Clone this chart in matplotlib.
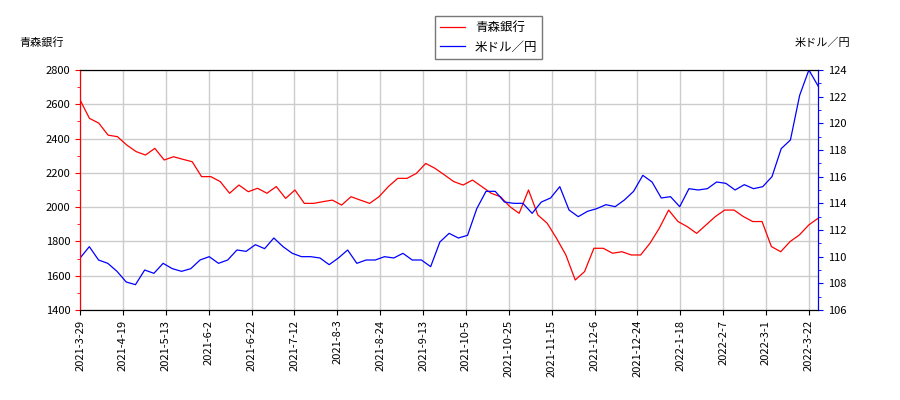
import matplotlib
matplotlib.use('Agg')
import matplotlib.pyplot as plt
import numpy as np

plt.rcParams['font.family'] = ['Noto Sans CJK JP', 'DejaVu Sans']
plt.rcParams['font.size'] = 8

tick_labels = ['2021-3-29', '2021-4-19', '2021-5-13', '2021-6-2', '2021-6-22', '2021-7-12',
               '2021-8-3', '2021-8-24', '2021-9-13', '2021-10-5', '2021-10-25', '2021-11-15',
               '2021-12-6', '2021-12-24', '2022-1-18', '2022-2-7', '2022-3-1', '2022-3-22']

bank = [2625, 2518, 2490, 2420, 2411, 2362, 2324, 2304, 2343, 2275, 2294, 2279, 2265, 2178,
        2178, 2149, 2081, 2129, 2090, 2110, 2081, 2120, 2051, 2100, 2022, 2022, 2032, 2041,
        2012, 2061, 2041, 2022, 2061, 2120, 2168, 2168, 2197, 2255, 2226, 2188, 2149,
        2129, 2158, 2120, 2081, 2061, 2003, 1964, 2100, 1954, 1906, 1818, 1721, 1575, 1624,
        1760, 1760, 1731, 1740, 1721, 1721, 1789, 1877, 1983, 1916, 1886, 1847, 1896, 1945,
        1983, 1983, 1945, 1916, 1916, 1770, 1740, 1799, 1838, 1896, 1935]

usdjpy = [109.9, 110.75, 109.75, 109.5, 108.9, 108.1, 107.9, 109.0, 108.75, 109.5, 109.1, 108.9,
          109.1, 109.75, 110.0, 109.5, 109.75, 110.5, 110.4, 110.9, 110.6, 111.4, 110.75, 110.25,
          110.0, 110.0, 109.9, 109.4, 109.9, 110.5, 109.5, 109.75, 109.75, 110.0, 109.9, 110.25,
          109.75, 109.75, 109.25, 111.1, 111.75,
          111.4, 111.6, 113.6, 114.9, 114.9, 114.1, 114.0, 114.0, 113.25, 114.1, 114.4, 115.25,
          113.5, 113.0, 113.4, 113.6, 113.9, 113.75, 114.25, 114.9, 116.1, 115.6, 114.4, 114.5,
          113.75, 115.1, 115.0, 115.1, 115.6, 115.5, 115.0, 115.4, 115.1, 115.25, 116.0, 118.1,
          118.75, 122.1, 124.0, 122.8]

x_bank = np.linspace(0, 241, len(bank))
x_fx = np.linspace(0, 241, len(usdjpy))

fig = plt.figure(figsize=(9, 4), dpi=100)
ax = fig.add_axes([0.089, 0.225, 0.82, 0.6])
ax2 = ax.twinx()

l1, = ax.plot(x_bank, bank, color='red', lw=0.9, label='青森銀行')
l2, = ax2.plot(x_fx, usdjpy, color='blue', lw=0.9, label='米ドル／円')

ax.set_xlim(0, 241)
ax.set_ylim(1400, 2800)
ax2.set_ylim(106, 124)
ax.set_yticks(range(1400, 2801, 200))
ax.set_yticks(range(1400, 2801, 100), minor=True)
ax2.set_yticks(range(106, 125, 2))
ax2.set_yticks(range(106, 125, 1), minor=True)
ax.set_xticks(np.arange(len(tick_labels)) * 14)
ax.set_xticklabels(tick_labels, rotation=90)
ax.grid(True, color='#cccccc', lw=1)

ax.spines['left'].set_color('red')
ax.tick_params(axis='y', colors='red', which='both', labelcolor='black')
ax2.spines['right'].set_color('blue')
ax2.spines['left'].set_color('red')
ax2.tick_params(axis='y', colors='blue', which='both', labelcolor='black')

fig.text(0.022, 0.885, '青森銀行', fontsize=8)
fig.text(0.945, 0.885, '米ドル／円', fontsize=8, ha='right')
fig.legend([l1, l2], ['青森銀行', '米ドル／円'], loc='upper center',
           bbox_to_anchor=(0.543, 0.975), fancybox=False, edgecolor='#555555', fontsize=9)

fig.savefig('out.png', dpi=100)
